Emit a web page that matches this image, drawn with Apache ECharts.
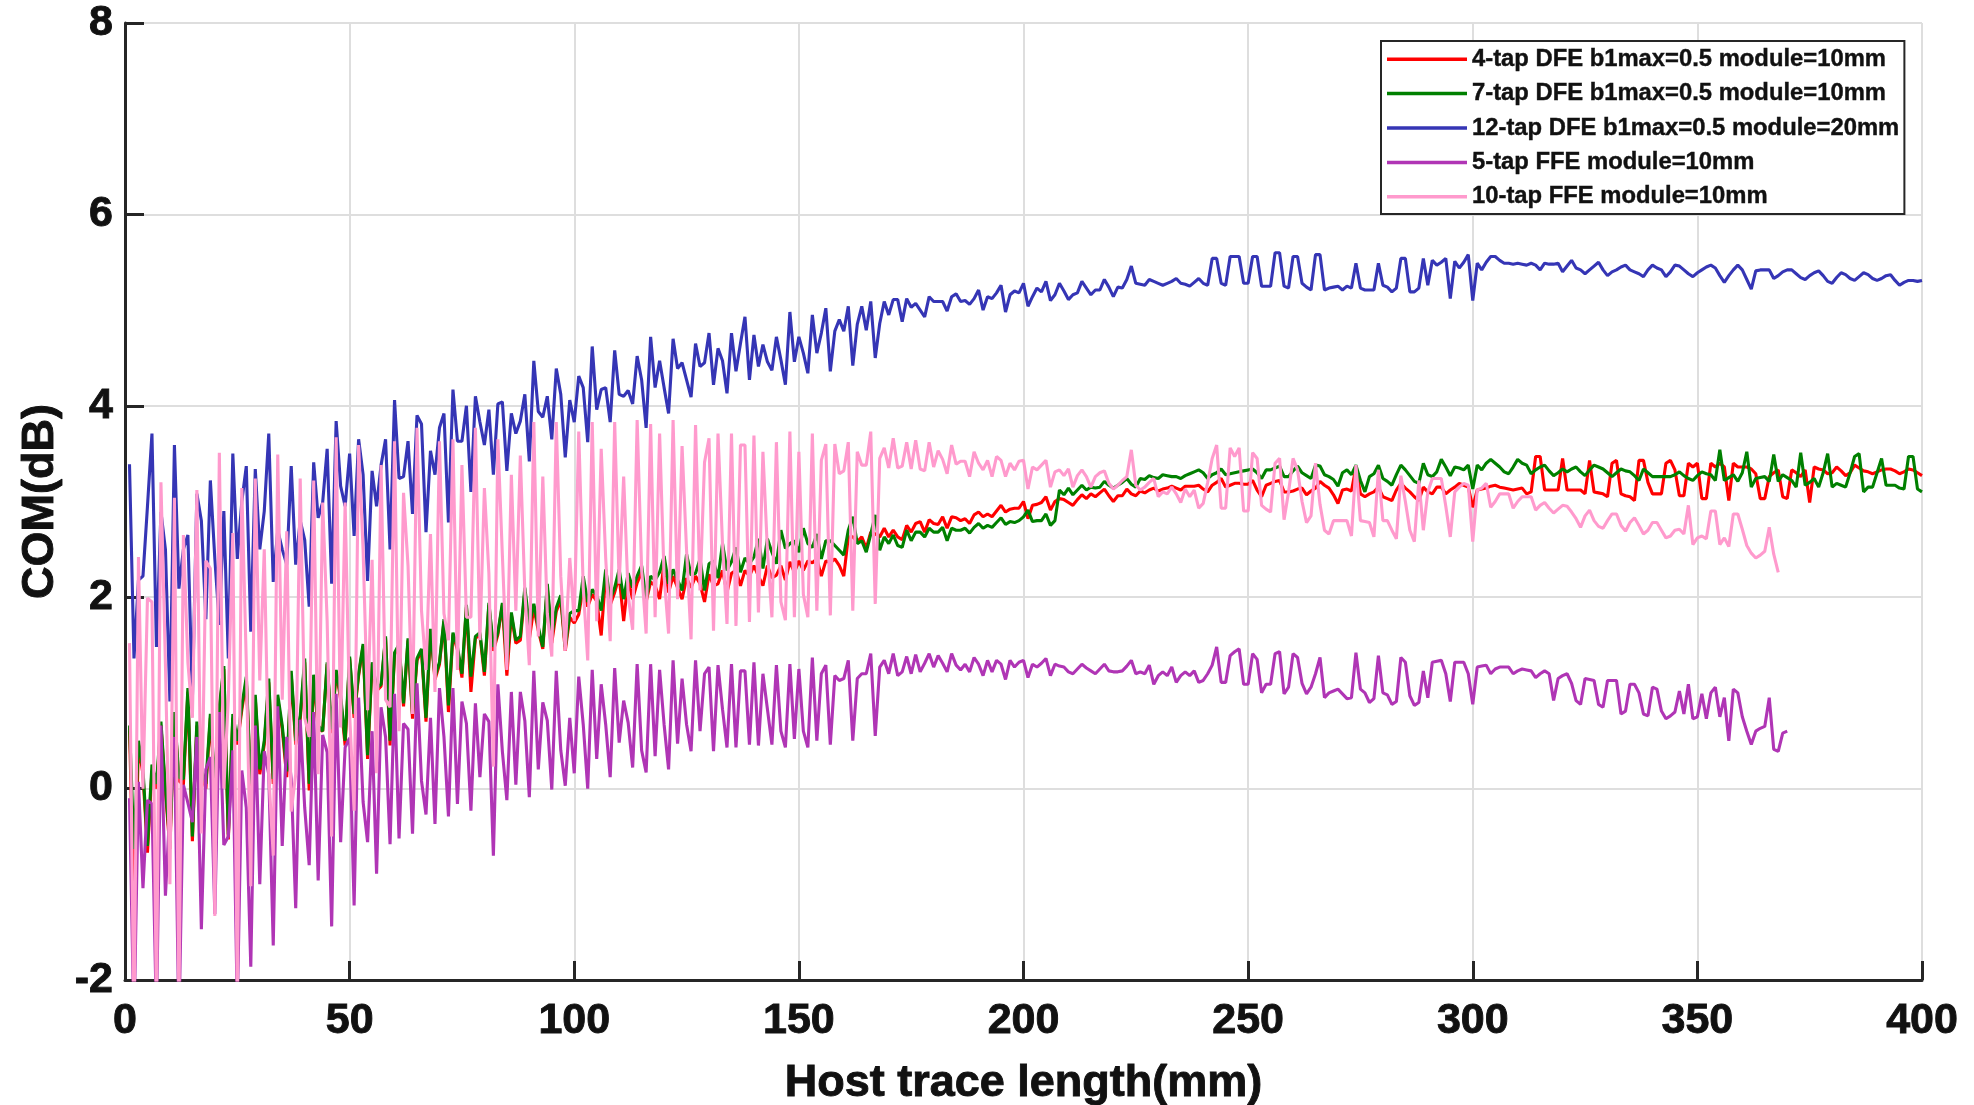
<!DOCTYPE html>
<html>
<head>
<meta charset="utf-8">
<title>COM vs host trace length</title>
<script src="https://cdn.jsdelivr.net/npm/echarts@6/dist/echarts.min.js"></script>
<style>
  html, body { margin: 0; padding: 0; background: #ffffff; }
  #chart { width: 1974px; height: 1105px; }
</style>
</head>
<body>
<div id="chart"></div>
<script>
// Host trace length runs from 1 mm in 1 mm steps for every series.
const firstLength = 1;
const lengthStep = 1;

const seriesNames = [
  '4-tap DFE b1max=0.5 module=10mm',
  '7-tap DFE b1max=0.5 module=10mm',
  '12-tap DFE b1max=0.5 module=20mm',
  '5-tap FFE module=10mm',
  '10-tap FFE module=10mm'
];
const seriesColors = ['#ff0000', '#008000', '#3535b5', '#b035b5', '#ff9acd'];

const xTicks = [0, 50, 100, 150, 200, 250, 300, 350, 400];
const yTicks = [-2, 0, 2, 4, 6, 8];

// COM (dB), 4-tap DFE, module 10 mm
const dfe4 = [
  0.64,-1.31,0.46,0.15,-0.67,0.19,0.00,0.66,-0.04,-0.63,
  0.78,0.08,0.04,1.01,-0.55,0.66,0.15,0.00,0.74,0.00,
  0.82,1.25,-0.53,0.74,0.46,0.82,1.13,0.00,0.94,0.15,
  0.46,1.11,0.05,0.94,0.62,0.12,1.19,0.46,0.72,1.32,
  -0.02,1.15,0.62,0.60,1.30,0.58,1.22,0.93,0.45,1.36,
  0.74,1.18,1.49,0.31,1.30,1.02,1.07,1.57,0.45,1.40,
  1.49,0.86,1.55,0.73,1.34,1.44,0.70,1.65,1.14,1.30,
  1.75,0.80,1.61,1.45,1.16,1.90,1.01,1.57,1.61,1.18,
  1.92,1.44,1.61,1.92,1.18,1.82,1.52,1.55,2.06,1.56,
  1.89,1.65,1.46,2.10,1.52,1.85,1.97,1.44,1.79,1.73,
  1.82,2.10,1.90,2.03,1.96,1.60,2.24,1.92,2.05,2.22,
  1.75,2.18,1.98,2.15,2.26,1.95,2.16,2.12,1.98,2.36,
  2.05,2.22,2.10,1.98,2.20,2.10,2.22,2.14,1.95,2.24,
  2.12,2.14,2.28,2.05,2.25,2.28,2.12,2.28,2.22,2.33,
  2.22,2.12,2.33,2.20,2.23,2.33,2.18,2.37,2.26,2.38,
  2.28,2.38,2.36,2.40,2.22,2.38,2.36,2.40,2.33,2.22,
  2.63,2.63,2.58,2.63,2.51,2.68,2.66,2.63,2.72,2.63,
  2.70,2.63,2.60,2.75,2.68,2.77,2.79,2.68,2.81,2.77,
  2.76,2.84,2.72,2.84,2.83,2.80,2.82,2.77,2.86,2.89,
  2.84,2.87,2.84,2.90,2.96,2.89,2.92,2.93,2.93,3.00,
  2.82,2.96,2.97,2.99,3.05,2.91,3.00,3.03,3.02,2.99,
  2.96,3.02,3.07,3.03,3.08,3.05,3.09,3.13,3.06,3.00,
  3.06,3.06,3.13,3.08,3.06,3.11,3.09,3.12,3.14,3.11,
  3.13,3.14,3.16,3.14,3.12,3.16,3.16,3.16,3.17,3.13,
  3.10,3.17,3.20,3.24,3.15,3.17,3.19,3.19,3.18,3.18,
  3.22,3.12,3.05,3.17,3.19,3.21,3.22,3.10,3.10,3.11,
  3.13,3.14,3.07,3.11,3.14,3.21,3.17,3.14,3.07,2.98,
  3.12,3.13,3.11,3.36,3.08,3.05,3.08,3.10,3.15,3.05,
  3.03,3.01,3.12,3.19,3.14,3.10,3.05,3.01,3.15,3.10,
  3.08,3.15,3.15,3.08,3.12,3.15,3.19,3.17,3.15,2.94,
  3.12,3.13,3.14,3.16,3.17,3.15,3.14,3.13,3.12,3.13,
  3.14,3.08,3.10,3.47,3.47,3.12,3.12,3.12,3.12,3.45,
  3.12,3.12,3.12,3.12,3.08,3.43,3.10,3.09,3.08,3.05,
  3.40,3.43,3.08,3.06,3.05,3.01,3.43,3.43,3.20,3.08,
  3.08,3.08,3.40,3.43,3.33,3.06,3.06,3.40,3.36,3.40,
  3.03,3.03,3.40,3.36,3.40,3.36,3.01,3.40,3.36,3.36,
  3.36,3.34,3.29,3.03,3.03,3.26,3.30,3.33,3.05,3.03,
  3.33,3.30,3.26,3.33,2.99,3.36,3.34,3.33,3.29,3.30,
  3.36,3.32,3.27,3.30,3.38,3.35,3.32,3.31,3.29,3.31,
  3.33,3.34,3.34,3.32,3.29,3.31,3.34,3.33,3.30,3.27
];

// COM (dB), 7-tap DFE, module 10 mm
const dfe7 = [
  0.66,-0.63,0.50,0.20,-0.60,0.25,0.05,0.70,0.00,-0.57,
  0.80,0.12,0.10,1.05,-0.50,0.70,0.20,0.05,0.78,0.05,
  0.86,1.28,-0.48,0.78,0.50,0.86,1.17,0.05,0.98,0.20,
  0.50,1.15,0.10,0.98,0.66,0.18,1.23,0.50,0.76,1.36,
  0.05,1.19,0.66,0.60,1.32,0.62,1.24,0.97,0.50,1.38,
  0.78,1.20,1.51,0.35,1.32,1.05,1.09,1.59,0.50,1.42,
  1.51,0.89,1.57,0.78,1.36,1.46,0.74,1.67,1.17,1.32,
  1.77,0.87,1.63,1.48,1.20,1.92,1.17,1.59,1.63,1.22,
  1.94,1.48,1.63,1.94,1.32,1.84,1.55,1.59,2.10,1.71,
  1.93,1.69,1.48,2.14,1.60,1.89,2.02,1.48,1.83,1.86,
  1.86,2.22,1.95,2.08,2.02,1.86,2.29,1.98,2.10,2.29,
  1.98,2.25,2.10,2.22,2.33,1.98,2.22,2.18,2.26,2.43,
  2.14,2.29,2.18,2.07,2.45,2.23,2.25,2.40,2.07,2.35,
  2.38,2.20,2.56,2.28,2.37,2.52,2.26,2.41,2.35,2.42,
  2.61,2.30,2.61,2.47,2.35,2.70,2.51,2.56,2.59,2.47,
  2.72,2.56,2.52,2.66,2.40,2.59,2.59,2.54,2.49,2.44,
  2.70,2.84,2.56,2.59,2.47,2.66,2.86,2.49,2.63,2.56,
  2.65,2.54,2.52,2.70,2.59,2.68,2.68,2.63,2.72,2.68,
  2.68,2.73,2.59,2.72,2.70,2.70,2.72,2.67,2.73,2.77,
  2.72,2.75,2.73,2.78,2.83,2.76,2.79,2.78,2.80,2.84,
  2.91,2.79,2.80,2.80,2.87,2.75,2.80,3.12,3.07,3.14,
  3.07,3.12,3.17,3.12,3.15,3.14,3.15,3.21,3.17,3.14,
  3.17,3.20,3.24,3.18,3.15,3.24,3.23,3.27,3.25,3.24,
  3.28,3.27,3.26,3.26,3.24,3.27,3.29,3.31,3.33,3.30,
  3.24,3.28,3.30,3.34,3.28,3.29,3.30,3.31,3.32,3.33,
  3.34,3.30,3.24,3.33,3.33,3.35,3.37,3.26,3.26,3.32,
  3.37,3.30,3.27,3.24,3.38,3.37,3.28,3.26,3.23,3.16,
  3.30,3.33,3.28,3.38,3.22,3.10,3.26,3.29,3.38,3.24,
  3.21,3.17,3.28,3.38,3.33,3.27,3.21,3.19,3.40,3.28,
  3.26,3.31,3.44,3.36,3.27,3.36,3.35,3.33,3.38,3.13,
  3.38,3.33,3.40,3.44,3.40,3.36,3.31,3.29,3.36,3.44,
  3.40,3.38,3.29,3.33,3.36,3.38,3.32,3.27,3.30,3.34,
  3.31,3.34,3.36,3.31,3.27,3.33,3.38,3.36,3.34,3.30,
  3.26,3.30,3.34,3.32,3.31,3.27,3.22,3.34,3.30,3.26,
  3.26,3.26,3.26,3.26,3.28,3.31,3.27,3.24,3.22,3.27,
  3.31,3.29,3.28,3.22,3.54,3.22,3.25,3.28,3.21,3.30,
  3.52,3.15,3.24,3.25,3.26,3.21,3.49,3.21,3.28,3.25,
  3.22,3.15,3.51,3.17,3.20,3.24,3.15,3.30,3.50,3.15,
  3.19,3.17,3.15,3.30,3.47,3.50,3.10,3.15,3.15,3.30,
  3.45,3.17,3.17,3.17,3.14,3.13,3.47,3.47,3.13,3.10
];

// COM (dB), 12-tap DFE, module 20 mm
const dfe12 = [
  3.39,1.36,2.18,2.22,2.95,3.71,1.48,2.89,2.50,0.91,
  3.59,2.09,2.50,2.65,0.93,3.08,2.80,1.77,3.22,2.40,
  1.71,2.90,1.36,3.50,2.40,3.00,3.37,1.64,3.34,2.50,
  2.90,3.71,2.16,2.70,2.50,2.34,3.37,2.34,2.80,2.60,
  1.90,3.41,2.83,2.99,3.55,2.14,3.84,3.16,2.95,3.50,
  2.64,3.65,3.28,2.17,3.32,2.95,3.38,3.65,2.50,4.06,
  3.24,3.26,3.63,2.87,3.90,3.81,2.68,3.53,3.28,3.77,
  3.92,2.78,4.17,3.63,3.63,4.00,3.10,4.10,3.83,3.59,
  3.96,3.28,4.02,4.04,3.32,3.92,3.71,3.84,4.12,3.42,
  4.47,3.94,3.88,4.10,3.65,4.39,4.12,3.46,4.06,3.83,
  4.31,4.19,3.62,4.62,3.96,4.17,4.19,3.83,4.58,4.12,
  4.10,4.16,4.02,4.52,4.27,3.77,4.72,4.19,4.47,4.19,
  3.92,4.70,4.39,4.45,4.27,4.09,4.65,4.41,4.45,4.76,
  4.22,4.60,4.47,4.13,4.76,4.36,4.65,4.93,4.27,4.74,
  4.41,4.64,4.46,4.37,4.72,4.48,4.22,4.98,4.46,4.72,
  4.55,4.34,4.95,4.55,4.76,5.02,4.36,4.78,4.90,4.78,
  5.04,4.42,4.85,5.04,4.79,5.09,4.50,4.86,5.09,4.95,
  5.11,5.11,4.88,5.12,5.03,5.07,5.00,4.93,5.14,5.09,
  5.09,5.09,4.99,5.14,5.17,5.09,5.10,5.06,5.12,5.21,
  5.00,5.14,5.12,5.18,5.26,4.98,5.16,5.20,5.18,5.28,
  5.04,5.14,5.23,5.19,5.30,5.10,5.16,5.28,5.20,5.11,
  5.16,5.18,5.30,5.23,5.16,5.21,5.21,5.32,5.24,5.14,
  5.24,5.23,5.32,5.46,5.28,5.27,5.26,5.32,5.30,5.28,
  5.26,5.28,5.30,5.33,5.28,5.27,5.25,5.29,5.33,5.28,
  5.26,5.54,5.54,5.28,5.26,5.56,5.56,5.56,5.28,5.28,
  5.56,5.56,5.25,5.25,5.25,5.60,5.60,5.25,5.23,5.56,
  5.56,5.28,5.24,5.21,5.58,5.58,5.21,5.23,5.24,5.25,
  5.21,5.25,5.23,5.49,5.23,5.21,5.21,5.21,5.49,5.26,
  5.24,5.19,5.23,5.54,5.54,5.19,5.19,5.23,5.54,5.26,
  5.52,5.47,5.50,5.54,5.12,5.51,5.44,5.50,5.58,5.10,
  5.49,5.42,5.50,5.56,5.56,5.52,5.49,5.49,5.48,5.49,
  5.48,5.47,5.49,5.47,5.42,5.49,5.48,5.48,5.49,5.40,
  5.46,5.52,5.44,5.42,5.38,5.42,5.46,5.50,5.42,5.36,
  5.40,5.42,5.45,5.47,5.42,5.40,5.38,5.35,5.42,5.47,
  5.44,5.42,5.35,5.40,5.47,5.46,5.42,5.38,5.35,5.39,
  5.42,5.45,5.47,5.44,5.36,5.29,5.36,5.42,5.47,5.42,
  5.32,5.22,5.41,5.42,5.42,5.42,5.33,5.36,5.40,5.42,
  5.42,5.38,5.34,5.32,5.36,5.39,5.41,5.36,5.30,5.28,
  5.34,5.39,5.37,5.33,5.31,5.35,5.39,5.37,5.33,5.31,
  5.33,5.36,5.37,5.31,5.26,5.29,5.31,5.31,5.30,5.31
];

// COM (dB), 5-tap FFE, module 10 mm (1 to 370 mm)
const ffe5 = [
  -0.10,-2.50,0.07,-1.04,-0.12,-0.16,-2.40,0.66,-1.12,-0.20,
  0.54,-2.50,0.04,-0.15,-0.35,0.54,-1.47,0.20,0.33,-1.31,
  0.80,-0.59,-0.50,0.40,-2.30,0.19,-0.20,-1.86,0.66,-1.00,
  0.39,0.15,-1.64,0.86,-0.60,0.54,0.10,-1.25,0.72,-0.20,
  -0.80,0.80,-0.96,0.56,0.38,-1.44,0.99,-0.56,0.43,0.53,
  -1.22,0.95,-0.14,-0.56,0.60,-0.89,0.85,0.54,-0.58,0.99,
  -0.52,0.68,0.62,-0.47,1.10,0.08,-0.27,0.74,-0.37,1.05,
  0.54,-0.29,1.05,-0.16,0.91,0.68,-0.23,0.89,0.12,0.78,
  0.70,-0.70,1.09,0.39,-0.12,1.01,0.04,1.01,0.71,-0.09,
  1.23,0.20,0.90,0.71,-0.01,1.23,0.40,0.03,0.74,0.16,
  1.17,0.67,0.00,1.24,0.31,1.09,0.67,0.12,1.26,0.48,
  0.92,0.69,0.22,1.30,0.40,0.17,1.30,0.34,1.24,0.67,
  0.20,1.34,0.47,1.15,0.67,0.39,1.34,0.60,1.20,1.27,
  0.39,1.29,0.83,0.43,1.30,0.43,1.23,1.23,0.46,1.32,
  0.45,1.20,0.83,0.46,1.29,0.60,0.43,1.30,0.52,1.25,
  0.60,0.43,1.37,0.50,1.20,1.29,0.46,1.18,1.13,1.15,
  1.34,0.50,1.15,1.20,1.20,1.41,0.55,1.27,1.34,1.20,
  1.41,1.18,1.22,1.38,1.20,1.40,1.22,1.31,1.41,1.27,
  1.39,1.31,1.22,1.41,1.29,1.24,1.30,1.22,1.37,1.30,
  1.18,1.34,1.22,1.34,1.30,1.14,1.34,1.27,1.32,1.34,
  1.16,1.30,1.27,1.31,1.36,1.18,1.30,1.28,1.27,1.22,
  1.20,1.25,1.30,1.26,1.23,1.20,1.25,1.30,1.23,1.22,
  1.22,1.23,1.28,1.34,1.20,1.22,1.20,1.29,1.09,1.18,
  1.22,1.18,1.27,1.11,1.18,1.22,1.18,1.23,1.11,1.13,
  1.20,1.29,1.48,1.11,1.11,1.39,1.43,1.46,1.09,1.09,
  1.41,1.35,1.00,1.09,1.09,1.41,1.43,0.99,1.06,1.41,
  1.37,1.10,0.99,1.06,1.20,1.37,0.95,1.00,1.02,1.04,
  0.99,0.94,0.95,1.42,1.04,1.00,0.90,0.94,1.39,1.00,
  0.98,0.88,0.91,1.37,1.32,0.97,0.87,0.90,1.23,0.95,
  1.32,1.33,1.34,1.20,0.91,1.32,1.32,1.32,1.20,0.88,
  1.27,1.28,1.29,1.20,1.25,1.27,1.27,1.27,1.20,1.23,
  1.25,1.24,1.23,1.16,1.20,1.23,1.20,0.92,1.15,1.18,
  1.20,1.10,0.92,0.88,1.15,1.14,1.13,0.88,0.85,1.13,
  1.13,1.13,0.78,0.81,1.09,1.09,1.00,0.78,0.76,1.06,
  1.04,0.81,0.73,0.76,0.80,1.02,0.78,1.09,0.73,0.75,
  0.99,0.73,1.00,1.06,0.75,0.95,0.50,1.04,1.00,0.75,
  0.60,0.46,0.60,0.63,0.65,0.95,0.41,0.39,0.58,0.60
];

// COM (dB), 10-tap FFE, module 10 mm (1 to 368 mm)
const ffe10 = [
  1.52,-2.50,2.42,0.00,1.99,1.95,-2.30,3.20,1.30,-1.00,
  3.04,-2.30,2.65,1.32,0.74,3.12,-0.47,2.38,2.30,-1.33,
  3.51,0.00,0.93,2.67,-2.20,3.14,1.32,-1.02,3.24,1.13,
  2.50,0.15,-0.70,3.49,0.93,2.69,-0.24,0.15,3.24,0.74,
  0.54,3.22,0.15,2.99,1.75,-0.50,3.67,0.64,2.99,0.78,
  -0.23,3.59,2.49,0.82,2.39,0.16,3.38,0.93,0.85,3.63,
  0.60,3.09,2.33,0.78,3.77,1.86,1.24,2.66,1.01,3.63,
  1.83,1.55,3.65,1.24,3.38,1.79,1.79,3.77,1.55,3.14,
  2.25,0.23,3.65,2.44,1.24,3.28,1.86,3.48,2.06,1.29,
  3.83,1.59,3.26,1.83,1.38,3.83,2.22,1.44,2.41,1.75,
  3.73,2.10,1.34,3.83,1.75,3.55,2.41,1.54,3.83,2.14,
  3.26,2.02,1.66,3.85,2.29,1.62,3.81,1.79,3.71,2.22,
  1.62,3.85,1.98,3.58,2.49,1.56,3.80,2.07,3.41,3.66,
  1.65,3.71,2.56,1.72,3.71,1.70,3.59,3.59,1.74,3.69,
  1.84,3.52,2.49,1.79,3.62,1.95,1.76,3.73,1.79,3.52,
  2.03,1.79,3.71,1.86,3.43,3.60,1.81,3.60,3.29,3.32,
  3.62,1.86,3.52,3.38,3.38,3.73,1.93,3.45,3.56,3.35,
  3.66,3.35,3.37,3.62,3.34,3.64,3.34,3.32,3.62,3.36,
  3.53,3.44,3.29,3.59,3.39,3.42,3.42,3.26,3.52,3.40,
  3.33,3.43,3.26,3.47,3.43,3.26,3.40,3.33,3.42,3.43,
  3.13,3.36,3.33,3.38,3.43,3.15,3.31,3.33,3.27,3.34,
  3.15,3.27,3.33,3.26,3.15,3.26,3.30,3.32,3.19,3.13,
  3.17,3.22,3.26,3.54,3.17,3.12,3.15,3.20,3.24,3.05,
  3.10,3.08,3.15,3.08,2.99,3.13,3.05,3.12,2.93,2.98,
  3.20,3.45,3.59,2.93,2.93,3.56,3.47,3.56,2.90,2.90,
  3.51,3.45,2.96,2.92,2.89,3.40,3.45,2.81,3.10,3.45,
  3.33,3.00,2.78,2.85,3.40,2.97,2.70,2.66,2.80,2.80,
  2.80,2.80,2.64,3.38,2.80,2.79,2.78,2.63,3.33,2.80,
  2.80,2.70,2.61,3.27,3.00,2.70,2.58,3.22,2.70,3.10,
  3.24,3.24,3.24,2.95,2.63,3.10,3.15,3.19,3.17,2.58,
  3.12,3.14,3.19,2.94,3.00,3.08,3.08,3.08,2.93,3.00,
  3.05,3.05,3.05,2.91,2.96,2.99,2.93,2.88,2.92,2.96,
  2.95,2.89,2.82,2.73,2.85,2.91,2.80,2.74,2.72,2.80,
  2.87,2.87,2.75,2.69,2.78,2.83,2.75,2.66,2.70,2.78,
  2.78,2.70,2.62,2.64,2.70,2.71,2.66,2.96,2.55,2.62,
  2.64,2.61,2.90,2.90,2.55,2.62,2.53,2.87,2.87,2.71,
  2.54,2.46,2.41,2.44,2.48,2.73,2.45,2.26
];

const seriesValues = [dfe4, dfe7, dfe12, ffe5, ffe10];

function toPairs(values) {
  return values.map((v, i) => [firstLength + i * lengthStep, v]);
}

const axisColor = '#262626';
const labelFont = {
  fontFamily: 'Liberation Sans, Arial, sans-serif',
  fontWeight: 'bold',
  color: '#111111'
};
// heavier strokes for the axis numbers and titles
const heavyText = { textBorderColor: '#111111', textBorderWidth: 0.9 };

const chart = echarts.init(document.getElementById('chart'), null, { renderer: 'canvas' });

chart.setOption({
  animation: false,
  backgroundColor: '#ffffff',
  grid: {
    left: 125, right: 52, top: 23, bottom: 125,
    containLabel: false,
    outerBoundsMode: 'none'
  },
  legend: {
    orient: 'vertical',
    left: 1381,
    top: 41,
    data: seriesNames,
    icon: 'rect',
    itemWidth: 80,
    itemHeight: 3.5,
    itemGap: 10,
    padding: [6, 5, 5, 6],
    backgroundColor: '#ffffff',
    borderColor: axisColor,
    borderWidth: 2,
    borderRadius: 0,
    textStyle: Object.assign({ fontSize: 23.8, lineHeight: 24, textBorderColor: '#111111', textBorderWidth: 0.4 }, labelFont)
  },
  xAxis: {
    type: 'value',
    min: xTicks[0],
    max: xTicks[xTicks.length - 1],
    interval: xTicks[1] - xTicks[0],
    name: 'Host trace length(mm)',
    nameLocation: 'middle',
    nameGap: 81,
    nameTextStyle: Object.assign({ fontSize: 45 }, labelFont, heavyText),
    axisLine: { show: true, onZero: false, lineStyle: { color: axisColor, width: 3 } },
    axisTick: { show: true, inside: true, length: 19, lineStyle: { color: axisColor, width: 3 } },
    axisLabel: Object.assign({ fontSize: 43, margin: 20 }, labelFont, heavyText),
    splitLine: { show: true, lineStyle: { color: '#dedede', width: 2 } }
  },
  yAxis: {
    type: 'value',
    min: yTicks[0],
    max: yTicks[yTicks.length - 1],
    interval: yTicks[1] - yTicks[0],
    name: 'COM(dB)',
    nameLocation: 'middle',
    nameGap: 50,
    nameRotate: 90,
    nameTextStyle: Object.assign({ fontSize: 45 }, labelFont, heavyText),
    axisLine: { show: true, onZero: false, lineStyle: { color: axisColor, width: 3 } },
    axisTick: { show: true, inside: true, length: 19, lineStyle: { color: axisColor, width: 3 } },
    axisLabel: Object.assign({ fontSize: 43, margin: 12 }, labelFont, heavyText),
    splitLine: { show: true, lineStyle: { color: '#dedede', width: 2 } }
  },
  series: seriesNames.map((name, k) => ({
    name: name,
    type: 'line',
    data: toPairs(seriesValues[k]),
    symbol: 'none',
    showSymbol: false,
    clip: true,
    color: seriesColors[k],
    lineStyle: { color: seriesColors[k], width: 3.1 },
    emphasis: { disabled: true }
  }))
});
</script>
</body>
</html>
